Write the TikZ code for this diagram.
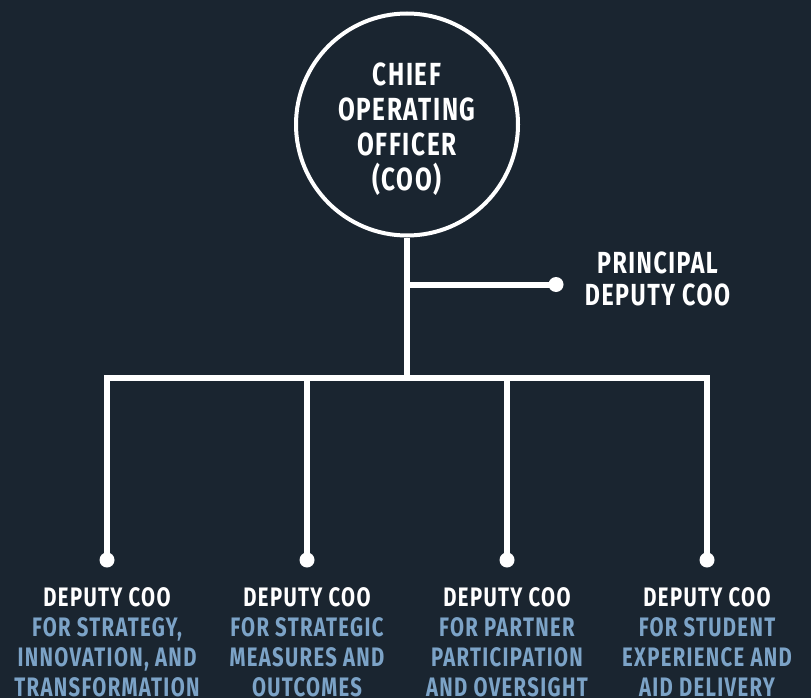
\documentclass[tikz,border=0pt]{standalone}
\usepackage{fontspec}
\newfontfamily\orgfont[FakeStretch=0.76,LetterSpace=5,BoldFont=* Bold]{Fira Sans}
\definecolor{bgnavy}{HTML}{1A2530}
\definecolor{lblue}{HTML}{7CA3C7}
\begin{document}
\begin{tikzpicture}[x=1pt,y=-1pt,
  wire/.style={draw=white,line width=6pt},
  dotnode/.style={circle,fill=white,inner sep=0pt,minimum size=15pt},
  toptext/.style={text=white,align=center,inner sep=0pt,font={\orgfont\bfseries\fontsize{32}{35}\selectfont}},
  sidetext/.style={text=white,align=center,inner sep=0pt,font={\orgfont\bfseries\fontsize{30.5}{32.5}\selectfont}},
  lowtext/.style={text=lblue,align=center,inner sep=0pt,font={\orgfont\bfseries\fontsize{26.7}{30}\selectfont}}]
\fill[bgnavy] (0,0) rectangle (811,698);
\useasboundingbox (0,0) rectangle (811,698);
% chief circle
\node[draw=white,line width=4pt,circle,minimum size=222pt,inner sep=0pt] (coo) at (407,124.5) {};
\node[toptext,anchor=base] (cootext) at (407,190) {CHIEF\\OPERATING\\OFFICER\\(COO)};
% principal deputy
\coordinate (pj) at (407,284.5);
\node[dotnode] (pdot) at (556,284.5) {};
\node[sidetext,anchor=base] (ptext) at (657.5,305.5) {PRINCIPAL\\DEPUTY COO};
% bus
\coordinate (bc) at (407,378);
\coordinate (b1) at (107,378);
\coordinate (b2) at (307,378);
\coordinate (b3) at (507,378);
\coordinate (b4) at (707,378);
\node[dotnode] (d1) at (107,560) {};
\node[dotnode] (d2) at (307,560) {};
\node[dotnode] (d3) at (507,560) {};
\node[dotnode] (d4) at (707,560) {};
\draw[wire] (coo.south) -- (bc);
\draw[wire] (pj) -- (pdot.center);
\draw[wire,line cap=rect] (b1) -- (b4);
\draw[wire] (b1) -- (d1.center);
\draw[wire] (b2) -- (d2.center);
\draw[wire] (b3) -- (d3.center);
\draw[wire] (b4) -- (d4.center);
% labels
\node[lowtext,anchor=base] (t1) at (107,696.5) {\textcolor{white}{DEPUTY COO}\\FOR STRATEGY,\\INNOVATION, AND\\TRANSFORMATION};
\node[lowtext,anchor=base] (t2) at (307,696.5) {\textcolor{white}{DEPUTY COO}\\FOR STRATEGIC\\MEASURES AND\\OUTCOMES};
\node[lowtext,anchor=base] (t3) at (507,696.5) {\textcolor{white}{DEPUTY COO}\\FOR PARTNER\\PARTICIPATION\\AND OVERSIGHT};
\node[lowtext,anchor=base] (t4) at (707,696.5) {\textcolor{white}{DEPUTY COO}\\FOR STUDENT\\EXPERIENCE AND\\AID DELIVERY};
\end{tikzpicture}
\end{document}
